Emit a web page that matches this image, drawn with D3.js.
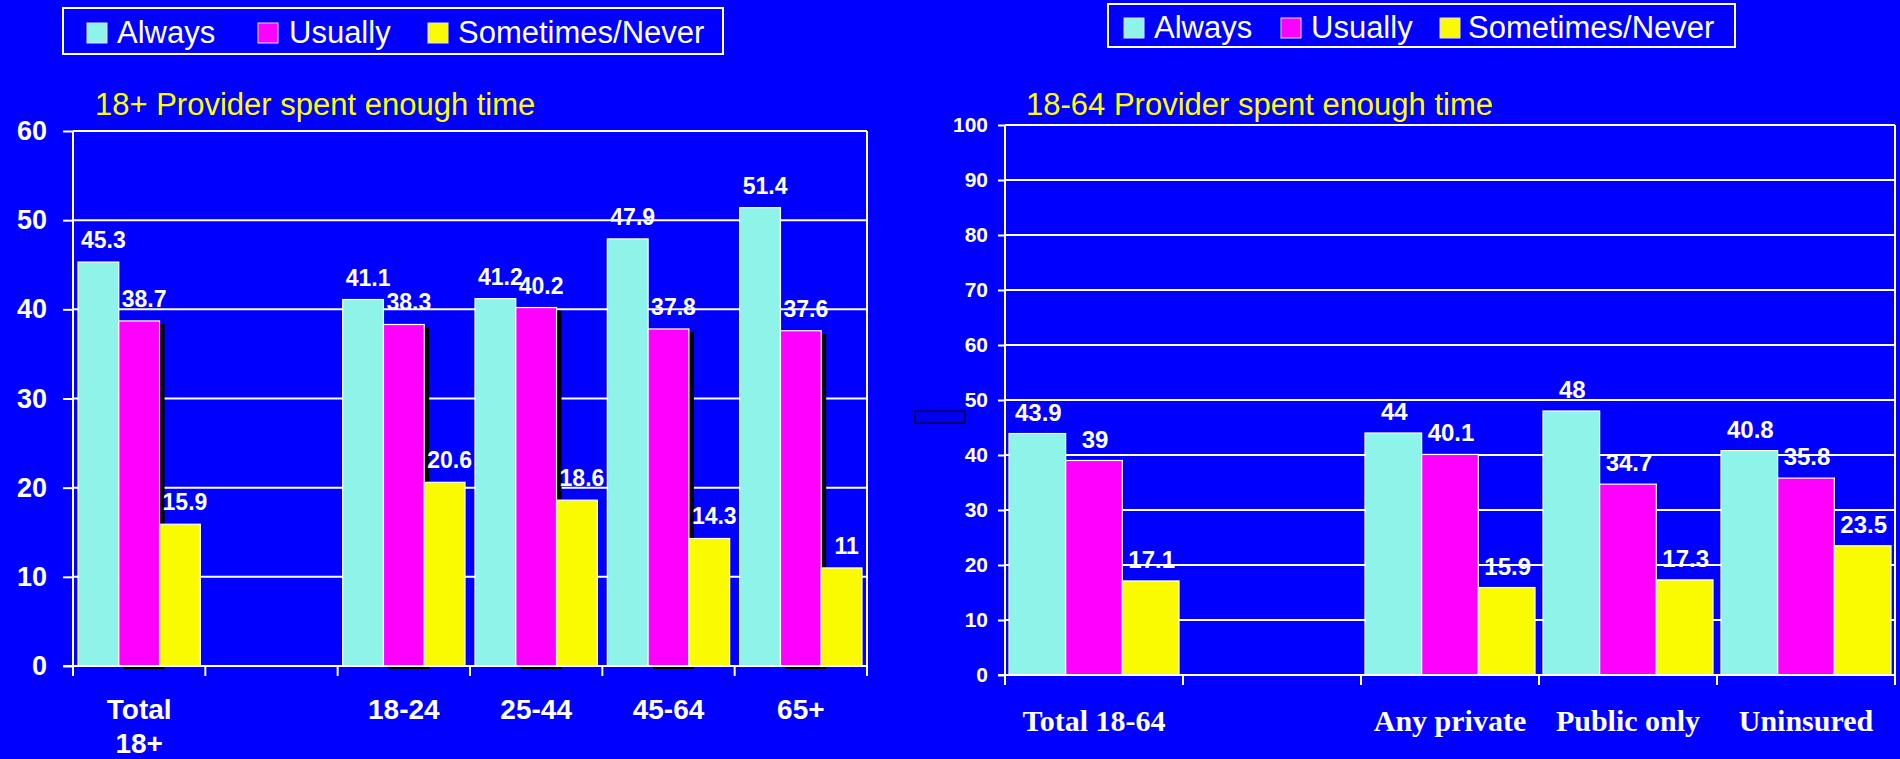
<!DOCTYPE html>
<html>
<head>
<meta charset="utf-8">
<script src="https://cdn.jsdelivr.net/npm/d3@7"></script>
<style>
  html, body { margin: 0; padding: 0; background: #0000FF; }
  svg { display: block; }
</style>
</head>
<body>
<svg id="chart" width="1900" height="759"></svg>
<script>
// Series shared by both panels
const seriesNames = ["Always", "Usually", "Sometimes/Never"];
const seriesColors = ["#8EF4EA", "#FF00FF", "#FAFA00"];

// Left panel: adults 18+ by age group (empty slot is a spacer column)
const leftCategories = ["Total|18+", "", "18-24", "25-44", "45-64", "65+"];
const leftAlways    = [45.3, null, 41.1, 41.2, 47.9, 51.4];
const leftUsually   = [38.7, null, 38.3, 40.2, 37.8, 37.6];
const leftSometimes = [15.9, null, 20.6, 18.6, 14.3, 11];
const leftTicks = [0, 10, 20, 30, 40, 50, 60];
const leftTitle = "18+ Provider spent enough time";

// Right panel: adults 18-64 by insurance status
const rightCategories = ["Total 18-64", "", "Any private", "Public only", "Uninsured"];
const rightAlways    = [43.9, null, 44, 48, 40.8];
const rightUsually   = [39, null, 40.1, 34.7, 35.8];
const rightSometimes = [17.1, null, 15.9, 17.3, 23.5];
const rightTicks = [0, 10, 20, 30, 40, 50, 60, 70, 80, 90, 100];
const rightTitle = "18-64 Provider spent enough time";

const svg = d3.select("#chart");
const SANS = "Arial, 'Liberation Sans', Helvetica, sans-serif";
const SERIF = "'Times New Roman', 'Liberation Serif', serif";

function drawLegend(cfg) {
  const g = svg.append("g");
  g.append("rect")
    .attr("x", cfg.box[0]).attr("y", cfg.box[1])
    .attr("width", cfg.box[2]).attr("height", cfg.box[3])
    .attr("fill", "none").attr("stroke", "#FFFFFF").attr("stroke-width", 2);
  seriesNames.forEach((name, i) => {
    g.append("rect")
      .attr("x", cfg.swatchX[i]).attr("y", cfg.swatchY)
      .attr("width", cfg.swatchSize).attr("height", cfg.swatchSize)
      .attr("fill", seriesColors[i]).attr("stroke", "#E0E0FF").attr("stroke-width", 1);
    g.append("text")
      .attr("x", cfg.textX[i]).attr("y", cfg.baseline)
      .attr("fill", "#FFFFFF")
      .attr("font-family", SANS).attr("font-size", cfg.fontSize)
      .text(name);
  });
}

function drawPanel(cfg) {
  const g = svg.append("g");
  const n = cfg.categories.length;
  const x0 = d3.scaleBand().domain(d3.range(n)).range([cfg.left, cfg.right]).padding(0);
  const y = d3.scaleLinear().domain([0, cfg.ticks[cfg.ticks.length - 1]]).range([cfg.bottom, cfg.top]);
  const x1 = d3.scaleBand().domain(d3.range(3))
    .range([cfg.groupPad, x0.bandwidth() - cfg.groupPad]).padding(0);

  // title
  g.append("text")
    .attr("x", cfg.titleX).attr("y", cfg.titleY)
    .attr("fill", "#FFFF00")
    .attr("font-family", SANS).attr("font-size", 31)
    .text(cfg.title);

  // horizontal gridlines
  g.append("g").selectAll("line").data(cfg.ticks).join("line")
    .attr("x1", cfg.left).attr("x2", cfg.right)
    .attr("y1", d => y(d)).attr("y2", d => y(d))
    .attr("stroke", "#FFFFFF").attr("stroke-width", 2);

  // right frame edge
  g.append("line")
    .attr("x1", cfg.right).attr("x2", cfg.right)
    .attr("y1", cfg.top).attr("y2", cfg.bottom)
    .attr("stroke", "#FFFFFF").attr("stroke-width", 2);

  // bars
  const series = cfg.series;
  const groups = g.append("g").selectAll("g").data(d3.range(n)).join("g")
    .attr("transform", i => `translate(${x0(i)},0)`);

  groups.each(function (ci) {
    const grp = d3.select(this);
    series.forEach((vals, si) => {
      const v = vals[ci];
      if (v == null) return;
      if (cfg.shadow && si === 1) {
        grp.append("rect")
          .attr("x", x1(si) + 5).attr("y", y(v) + 3)
          .attr("width", x1.bandwidth()).attr("height", y(0) - y(v))
          .attr("fill", "#000000");
      }
      grp.append("rect")
        .attr("x", x1(si)).attr("y", y(v))
        .attr("width", x1.bandwidth()).attr("height", y(0) - y(v))
        .attr("fill", seriesColors[si])
        .attr("stroke", "#FFFFFF").attr("stroke-width", 1.2);
    });
  });

  // value labels
  groups.each(function (ci) {
    const grp = d3.select(this);
    series.forEach((vals, si) => {
      const v = vals[ci];
      if (v == null) return;
      grp.append("text")
        .attr("x", x1(si) + x1.bandwidth() / 2 + cfg.labelDx)
        .attr("y", y(v) - cfg.labelDy)
        .attr("text-anchor", "middle")
        .attr("fill", "#FFFFFF")
        .attr("font-family", SANS).attr("font-weight", "bold")
        .attr("font-size", cfg.labelSize)
        .text(String(v));
    });
  });

  // y axis
  const yAxis = d3.axisLeft(y).tickValues(cfg.ticks).tickSize(cfg.yTickLen).tickPadding(cfg.yTickPad);
  const ya = g.append("g").attr("transform", `translate(${cfg.left},0)`).call(yAxis);
  ya.select(".domain").attr("stroke", "#FFFFFF").attr("stroke-width", 2)
    .attr("d", `M0,${cfg.top}V${cfg.bottom}`);
  ya.selectAll(".tick line").attr("stroke", "#FFFFFF").attr("stroke-width", 2);
  ya.selectAll(".tick text")
    .attr("fill", "#FFFFFF")
    .attr("font-family", SANS).attr("font-weight", "bold")
    .attr("font-size", cfg.yFontSize);

  // x axis line and band boundary ticks
  g.append("line")
    .attr("x1", cfg.left - cfg.yTickLen).attr("x2", cfg.right)
    .attr("y1", cfg.bottom).attr("y2", cfg.bottom)
    .attr("stroke", "#FFFFFF").attr("stroke-width", 2);
  const bounds = d3.range(n + 1).map(i => i < n ? x0(i) : cfg.right);
  g.append("g").selectAll("line").data(bounds).join("line")
    .attr("x1", d => d).attr("x2", d => d)
    .attr("y1", cfg.bottom).attr("y2", cfg.bottom + 10)
    .attr("stroke", "#FFFFFF").attr("stroke-width", 2);

  // category labels
  cfg.categories.forEach((cat, i) => {
    if (!cat) return;
    const t = g.append("text")
      .attr("text-anchor", "middle")
      .attr("fill", "#FFFFFF")
      .attr("font-family", cfg.catFont).attr("font-weight", "bold")
      .attr("font-size", cfg.catSize);
    cat.split("|").forEach((line, li) => {
      t.append("tspan")
        .attr("x", x0(i) + x0.bandwidth() / 2)
        .attr("y", cfg.catY + li * cfg.catLine)
        .text(line);
    });
  });
}

drawLegend({
  box: [63, 8, 660, 46],
  swatchX: [87, 258, 428], swatchY: 23, swatchSize: 20,
  textX: [117, 289, 458], baseline: 43, fontSize: 31
});
drawLegend({
  box: [1108, 4, 627, 43],
  swatchX: [1124, 1281, 1440], swatchY: 18, swatchSize: 20,
  textX: [1154, 1311, 1468], baseline: 38, fontSize: 31
});

drawPanel({
  categories: leftCategories,
  series: [leftAlways, leftUsually, leftSometimes],
  ticks: leftTicks, title: leftTitle,
  titleX: 95, titleY: 115,
  left: 73, right: 867, top: 131, bottom: 666,
  groupPad: 5, shadow: true,
  labelDx: 5, labelDy: 14, labelSize: 23,
  yTickLen: 10, yTickPad: 16, yFontSize: 27,
  catFont: SANS, catSize: 28, catY: 719, catLine: 34
});

drawPanel({
  categories: rightCategories,
  series: [rightAlways, rightUsually, rightSometimes],
  ticks: rightTicks, title: rightTitle,
  titleX: 1026, titleY: 115,
  left: 1005, right: 1895, top: 125, bottom: 675,
  groupPad: 4, shadow: false,
  labelDx: 1, labelDy: 13, labelSize: 24,
  yTickLen: 7, yTickPad: 10, yFontSize: 21,
  catFont: SERIF, catSize: 30, catY: 731, catLine: 34
});

// stray empty placeholder box beside the right axis
svg.append("rect")
  .attr("x", 915).attr("y", 411).attr("width", 50).attr("height", 12)
  .attr("fill", "#0000F0").attr("stroke", "#000000").attr("stroke-width", 1);
</script>
</body>
</html>
